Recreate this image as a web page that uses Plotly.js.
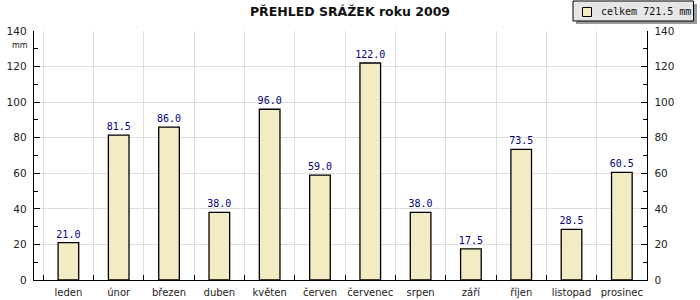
<!DOCTYPE html>
<html>
<head>
<meta charset="utf-8">
<script src="https://cdn.plot.ly/plotly-3.0.1.min.js"></script>
<style>html,body{margin:0;padding:0;background:#fff;}#chart{width:700px;height:300px;}</style>
</head>
<body>
<div id="chart"></div>
<script>
const months = ["leden","únor","březen","duben","květen","červen","červenec","srpen","září","říjen","listopad","prosinec"];
const rainfall = [21.0, 81.5, 86.0, 38.0, 96.0, 59.0, 122.0, 38.0, 17.5, 73.5, 28.5, 60.5];
const yTicks = [0, 20, 40, 60, 80, 100, 120, 140];
const chartTitle = "PŘEHLED SRÁŽEK roku 2009";
const unitLabel = "mm";

const total = rainfall.reduce((a, b) => a + b, 0);
const legendText = "celkem " + total.toFixed(1) + " mm";

const W = 700, H = 300, L = 34, R = 53, T = 31, B = 20;
const pw = W - L - R, ph = H - T - B;
const px = v => (v - L) / pw;          // pixel -> paper x
const py = v => (H - B - v) / ph;      // pixel -> paper y

const barColor = "#f3ebc1";

const trace = {
  type: "bar",
  x: months,
  y: rainfall,
  name: legendText,
  marker: {color: barColor, line: {color: "#000", width: 1.3}},
  texttemplate: "%{y:.1f}",
  textposition: "outside",
  constraintext: "none",
  cliponaxis: false,
  textfont: {family: "DejaVu Sans Mono", size: 10, color: "#000080"},
  hoverinfo: "none",
  showlegend: false
};

const ghost = {
  type: "scatter", x: [months[0]], y: [0], yaxis: "y2",
  mode: "markers", marker: {opacity: 0}, showlegend: false, hoverinfo: "none"
};

const axisFont = {family: "DejaVu Sans", size: 10.5, color: "#222"};

const layout = {
  width: W, height: H,
  margin: {l: L, r: R, t: T, b: B, pad: 0, autoexpand: false},
  paper_bgcolor: "#fff", plot_bgcolor: "#fff",
  title: {text: chartTitle, font: {family: "DejaVu Sans", size: 12.5, color: "#111", weight: "bold"}, x: 0.5, xanchor: "center", y: 0.96, yanchor: "middle"},
  bargap: 0.59,
  showlegend: false,
  xaxis: {
    type: "category", tickson: "boundaries", ticks: "inside", ticklen: 5, tickcolor: "#000",
    showgrid: true, gridcolor: "#dddddd", gridwidth: 1, tickangle: 0, automargin: false,
    showline: true, linecolor: "#000", linewidth: 1.3,
    tickfont: {family: "DejaVu Sans", size: 10, color: "#222"}, ticklabelstandoff: 3
  },
  yaxis: {
    range: [0, 140], tickvals: yTicks, ticks: "inside", ticklen: 6, tickcolor: "#000",
    minor: {dtick: 10, ticks: "inside", ticklen: 4, tickcolor: "#000", showgrid: false},
    showgrid: true, gridcolor: "#dddddd", gridwidth: 1, automargin: false,
    showline: true, linecolor: "#000", linewidth: 1.3, zeroline: false,
    tickfont: axisFont, ticklabelstandoff: 4
  },
  yaxis2: {
    overlaying: "y", side: "right", range: [0, 140], tickvals: yTicks, automargin: false,
    ticks: "inside", ticklen: 6, tickcolor: "#000",
    minor: {dtick: 10, ticks: "inside", ticklen: 4, tickcolor: "#000", showgrid: false},
    showgrid: false, showline: true, linecolor: "#000", linewidth: 1.3, zeroline: false,
    tickfont: axisFont, ticklabelstandoff: 4
  },
  shapes: [
    {type: "rect", xref: "paper", yref: "paper", x0: px(576), x1: px(697), y0: py(4), y1: py(24),
     fillcolor: "#999", line: {width: 0}, layer: "above"},
    {type: "rect", xref: "paper", yref: "paper", x0: px(573), x1: px(693.5), y0: py(1), y1: py(21),
     fillcolor: "#e6e6e6", line: {color: "#000", width: 1}, layer: "above"},
    {type: "rect", xref: "paper", yref: "paper", x0: px(582.5), x1: px(591.5), y0: py(7.5), y1: py(16.5),
     fillcolor: barColor, line: {color: "#000", width: 1}, layer: "above"}
  ],
  annotations: [
    {text: unitLabel, xref: "paper", yref: "paper", x: px(30), y: py(46),
     xanchor: "right", yanchor: "middle", showarrow: false,
     font: {family: "DejaVu Sans", size: 8, color: "#222"}},
    {text: legendText, xref: "paper", yref: "paper", x: px(599), y: py(11.5),
     xanchor: "left", yanchor: "middle", showarrow: false,
     font: {family: "DejaVu Sans Mono", size: 10, color: "#111"}}
  ]
};

Plotly.newPlot("chart", [trace, ghost], layout, {staticPlot: true, displayModeBar: false});
</script>
</body>
</html>
